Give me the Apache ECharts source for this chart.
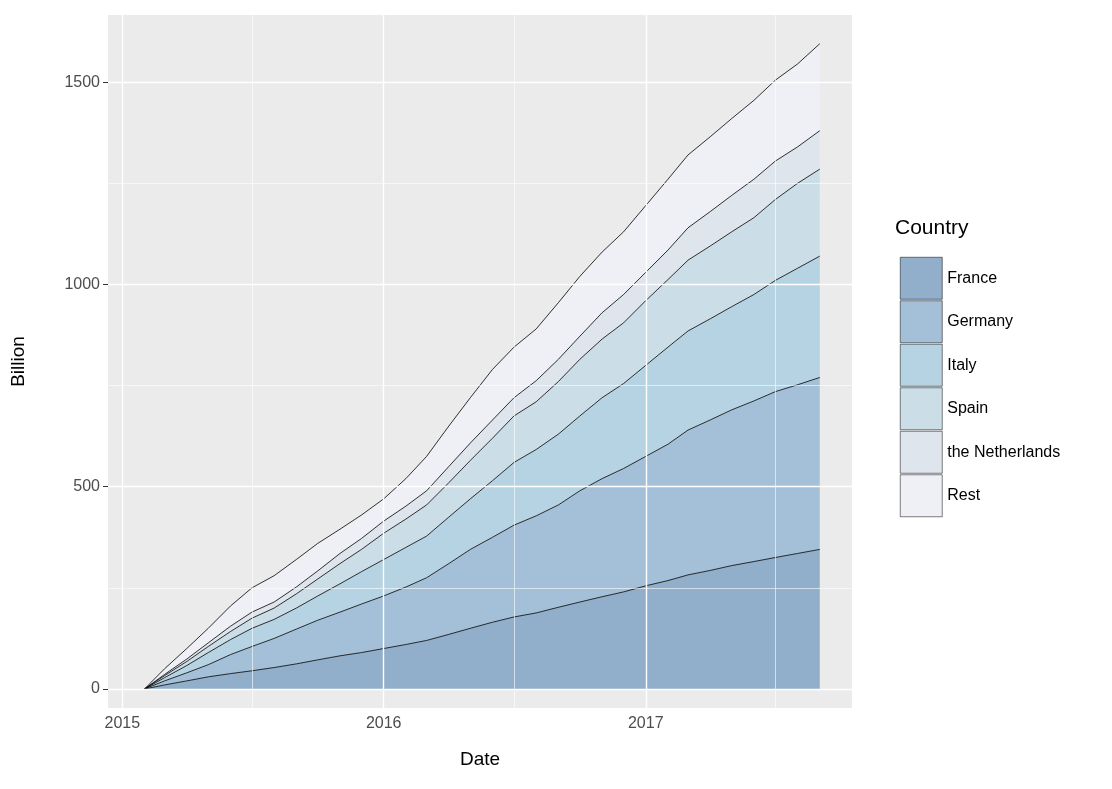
<!DOCTYPE html>
<html><head><meta charset="utf-8">
<script src="https://cdn.jsdelivr.net/npm/echarts@6/dist/echarts.min.js"></script>
<style>html,body{margin:0;padding:0;background:#fff}#chart{width:1112px;height:789px}</style>
</head><body><div id="chart"></div>
<script>
var months = ['2015-02-01','2015-03-01','2015-04-01','2015-05-01','2015-06-01','2015-07-01','2015-08-01','2015-09-01','2015-10-01','2015-11-01','2015-12-01',
	'2016-01-01','2016-02-01','2016-03-01','2016-04-01','2016-05-01','2016-06-01','2016-07-01','2016-08-01','2016-09-01','2016-10-01','2016-11-01','2016-12-01',
	'2017-01-01','2017-02-01','2017-03-01','2017-04-01','2017-05-01','2017-06-01','2017-07-01','2017-08-01','2017-09-01'];
var france = [0,10,20,30,38,45,53,62,72,82,90,100,110,120,135,150,165,178,188,202,215,228,240,255,268,282,293,305,315,325,335,345];
var germany = [0,10,20,30,47,60,72,86,98,108,120,130,142,155,175,195,210,227,240,253,275,292,305,320,337,358,372,385,397,410,417,425];
var italy = [0,8,18,30,37,45,47,52,60,70,80,90,98,103,115,125,140,155,164,175,185,200,210,225,240,245,250,255,263,275,288,300];
var spain = [0,5,10,15,20,25,28,35,42,50,55,65,70,77,85,95,105,115,118,130,140,145,150,160,167,175,180,185,190,200,210,215];
var netherlands = [0,3,6,9,13,15,15,17,20,25,27,30,32,35,40,43,45,45,52,55,57,65,70,70,73,80,85,90,95,95,90,95];
var rest = [0,14,26,36,50,60,65,68,68,60,58,55,68,85,100,112,125,125,128,140,148,150,155,165,175,180,185,190,195,200,205,215];
var countries = ['France','Germany','Italy','Spain','the Netherlands','Rest'];
var colors = ['#91aecb','#a3c0d8','#b6d3e3','#cbdee7','#dfe5ed','#eef0f6'];
var yTicks = [0,500,1000,1500];
var yMinor = [250,750,1250];
var xTicks = ['2015-01-01','2016-01-01','2017-01-01'];
var xMinor = ['2015-07-01','2016-07-01','2017-07-01'];

function ts(s){ return new Date(s + 'T00:00:00Z').getTime(); }

var myChart = echarts.init(document.getElementById('chart'));
var values = [france,germany,italy,spain,netherlands,rest];

var grid = [];
yTicks.forEach(function(v){ grid.push({yAxis: v, lineStyle:{width:1.4}}); });
yMinor.forEach(function(v){ grid.push({yAxis: v, lineStyle:{width:0.6}}); });
xTicks.forEach(function(v){ grid.push({xAxis: ts(v), lineStyle:{width:1.4}}); });
xMinor.forEach(function(v){ grid.push({xAxis: ts(v), lineStyle:{width:0.6}}); });

var series = [{
	type: 'line', data: [], z: 0, silent: true,
	markLine: {symbol: ['none','none'], silent: true, label: {show: false},
		lineStyle: {color: '#fff', type: 'solid'}, data: grid}
}];
values.forEach(function(vals, i){
	series.push({
		name: countries[i], type: 'line', stack: 'all', z: 2,
		// value first so that the stack is built on the y value
		data: vals.map(function(v, j){ return [v, ts(months[j])]; }),
		encode: {x: 1, y: 0},
		symbol: 'none', lineStyle: {color: '#000', width: 0.8},
		itemStyle: {color: colors[i], borderColor: '#000', borderWidth: 0.5},
		areaStyle: {color: colors[i], opacity: 1}
	});
});

var option = {
	animation: false,
	backgroundColor: '#fff',
	grid: {left: 108, right: 260, top: 15, bottom: 81, backgroundColor: '#ebebeb', show: true, borderWidth: 0},
	legend: {
		data: countries, orient: 'vertical', left: 895, top: 252,
		itemWidth: 42, itemHeight: 42, itemGap: 1, icon: 'rect',
		itemStyle: {borderWidth: 0.5, borderColor: '#000'},
		textStyle: {fontSize: 16, color: '#000', fontFamily: 'Liberation Sans'}
	},
	graphic: [{type: 'text', left: 895, top: 218, style: {text: 'Country', fontSize: 21, fill: '#000', fontFamily: 'Liberation Sans'}}],
	xAxis: {
		type: 'value', min: ts('2014-12-12'), max: ts('2017-10-16'),
		name: 'Date', nameLocation: 'middle', nameGap: 42,
		nameTextStyle: {fontSize: 19, color: '#000', fontFamily: 'Liberation Sans'},
		axisLine: {show: false},
		axisTick: {show: true, length: 5, lineStyle: {color: '#333'}, customValues: xTicks.map(ts)},
		axisLabel: {fontSize: 16, color: '#4d4d4d', fontFamily: 'Liberation Sans', customValues: xTicks.map(ts),
			formatter: function(v){ return String(new Date(v).getUTCFullYear()); }},
		splitLine: {show: false}
	},
	yAxis: {
		type: 'value', min: -47, max: 1666,
		name: 'Billion', nameLocation: 'middle', nameGap: 80,
		nameTextStyle: {fontSize: 19, color: '#000', fontFamily: 'Liberation Sans'},
		axisLine: {show: false},
		axisTick: {show: true, length: 5, lineStyle: {color: '#333'}, customValues: yTicks},
		axisLabel: {fontSize: 16, color: '#4d4d4d', fontFamily: 'Liberation Sans', customValues: yTicks,
			formatter: function(v){ return String(v); }},
		splitLine: {show: false}
	},
	series: series
};
myChart.setOption(option);
</script></body></html>
